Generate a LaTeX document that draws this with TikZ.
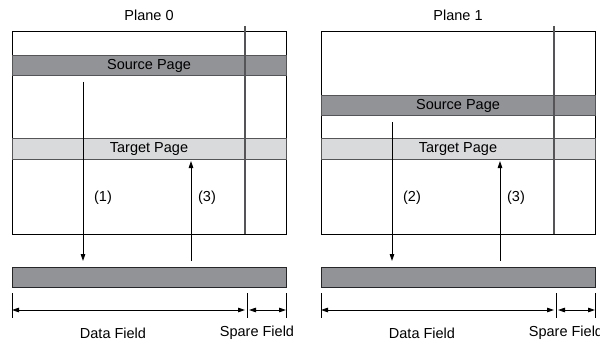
\documentclass[tikz,border=0pt]{standalone}
\usepackage{fontspec}
\setmainfont{Liberation Sans}
\usetikzlibrary{arrows.meta}

\definecolor{srcgray}{RGB}{146,147,151}
\definecolor{tgtgray}{RGB}{217,218,220}
\definecolor{linegray}{RGB}{85,85,88}

\begin{document}
\begin{tikzpicture}[
  x=1pt, y=-1pt,
  >={Triangle[length=7pt, width=4.5pt]},
  font=\fontsize{14.5}{17}\selectfont,
  band/.style={draw=linegray, line width=0.9pt, minimum width=274pt,
    minimum height=20pt, inner sep=0pt, outer sep=0pt},
  ]

  \useasboundingbox (0,0) rectangle (600,345);

  % one plane per pass: index / x offset / source band centre / label of the read arrow
  \foreach \p/\off/\sy/\dlab in {0/0/65.5/(1), 1/309/105.5/(2)} {

    % Plane title
    \node (title\p) at (149+\off, 15) {Plane \p};

    % Block outline
    \draw[line width=0.9pt] (12+\off, 31) rectangle (286+\off, 234);

    % Source and target pages
    \node[band, fill=srcgray] (src\p) at (149+\off, \sy) {Source Page};
    \node[band, fill=tgtgray, minimum height=21pt] (tgt\p) at (149+\off, 149) {Target Page};

    % Spare field boundary
    \draw[linegray, line width=1.1pt] (245+\off, 26) -- (245+\off, 234);

    % Page register
    \node[band, draw=black!85, fill=srcgray] (bar\p) at (149+\off, 277) {};

    % Read arrow
    \coordinate (dn\p) at (83+\off, \sy+16.5);
    \coordinate (dnend\p) at (83+\off, 261);
    \draw[->, line width=0.8pt] (dn\p) -- (dnend\p);
    \node (dlab\p) at (103+\off, 198) {\dlab};

    % Write arrow
    \coordinate (up\p) at (191+\off, 261);
    \draw[->, line width=0.8pt, shorten >=1.5pt] (up\p) -- (tgt\p.south -| up\p);
    \node (ulab\p) at (207+\off, 198) {(3)};

    % Field widths
    \coordinate (ta\p) at (12+\off, 293);
    \coordinate (tb\p) at (247+\off, 293);
    \coordinate (tc\p) at (286+\off, 293);
    \draw[line width=0.8pt] (ta\p) -- ++(0,25) (tb\p) -- ++(0,25) (tc\p) -- ++(0,25);
    \draw[<->, line width=0.8pt] ([yshift=-17pt]ta\p) -- ([yshift=-17pt, xshift=-2pt]tb\p);
    \draw[<->, line width=0.8pt] ([yshift=-17pt, xshift=2pt]tb\p) -- ([yshift=-17pt]tc\p);
    \node (data\p) at (113+\off, 333) {Data Field};
    \node (spare\p) at (257+\off, 333) {Spare Field};
  }

\end{tikzpicture}
\end{document}
